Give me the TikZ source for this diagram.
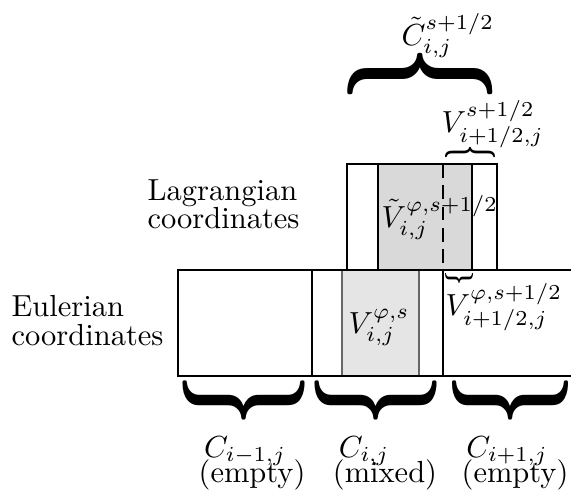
\documentclass[tikz,border=0pt]{standalone}
\usepackage{amsmath}
\usepackage{graphicx}
\usetikzlibrary{positioning}
\newdimen\pxu \pxu=0.328pt
% brace glyph stretched to #1 x #2 (in px), turned by #3
\newcommand{\bracebox}[3]{\resizebox*{#1\pxu}{#2\pxu}{\rotatebox{#3}{\boldmath$\}$}}}

\begin{document}
\begin{tikzpicture}[
    x=\pxu, y=-\pxu,
    cellline/.style={line width=0.9pt},
    lagfill/.style={fill=gray!30},
    eulfill/.style={fill=gray!20, draw=black!60, line width=0.4pt},
    txt/.style={inner sep=0pt, align=left, font=\fontsize{10}{9.3}\selectfont},
    lbl/.style={inner sep=0pt, anchor=base west},
    celllbl/.style={inner sep=0pt, anchor=base},
    brc/.style={inner sep=0pt}
]
\useasboundingbox (0,0) rectangle (571,491);

% Lagrangian cell
\fill[lagfill] (378,164) rectangle (472,270);
\draw[cellline] (347,164) rectangle (497,270);
\draw[cellline] (378,164) -- (378,270) (472,164) -- (472,270);
\draw[cellline, dash pattern=on 4.5pt off 2.5pt] (443,164) -- (443,270);

% Eulerian cells
\filldraw[eulfill] (342,270) rectangle (419,376);
\draw[cellline] (571,270) -- (178,270) -- (178,376) -- (571,376);
\draw[cellline] (312,270) -- (312,376) (443,270) -- (443,376);

\node[txt, anchor=north west] (lag) at (147,179) {Lagrangian\\coordinates};
\node[txt, anchor=north west] (eul) at (11,295) {Eulerian\\coordinates};

% braces
\node[brc] (brtop) at (420.5,73.5) {\bracebox{145}{57}{90}};
\node[brc] (brsm) at (470,152) {\bracebox{50}{14}{90}};
\node[brc] (brlow) at (459,278) {\bracebox{28}{14}{-90}};
\node[brc] (br1) at (244,400.5) {\bracebox{122}{54}{-90}};
\node[brc] (br2) at (376,400.5) {\bracebox{122}{54}{-90}};
\node[brc] (br3) at (510,400.5) {\bracebox{116}{54}{-90}};

% labels
\node[lbl] (Ct) at (401,45) {$\tilde{C}_{i,j}^{s+1/2}$};
\node[lbl] (Vtop) at (441,132) {$V_{i+1/2,j}^{s+1/2}$};
\node[lbl] (Vlag) at (381,227) {$\tilde{V}_{i,j}^{\varphi,s+1/2}$};
\node[lbl] (Veul) at (348,333) {$V_{i,j}^{\varphi,s}$};
\node[lbl] (Vflux) at (445,315) {$V_{i+1/2,j}^{\varphi,s+1/2}$};

\node[celllbl] (c1) at (245,457) {$C_{i-1,j}$};
\node[celllbl] (e1) at (252,482) {(empty)};
\node[celllbl] (c2) at (364,457) {$C_{i,j}$};
\node[celllbl] (m2) at (385,482) {(mixed)};
\node[celllbl] (c3) at (507,457) {$C_{i+1,j}$};
\node[celllbl] (e3) at (515,482) {(empty)};
\end{tikzpicture}
\end{document}
